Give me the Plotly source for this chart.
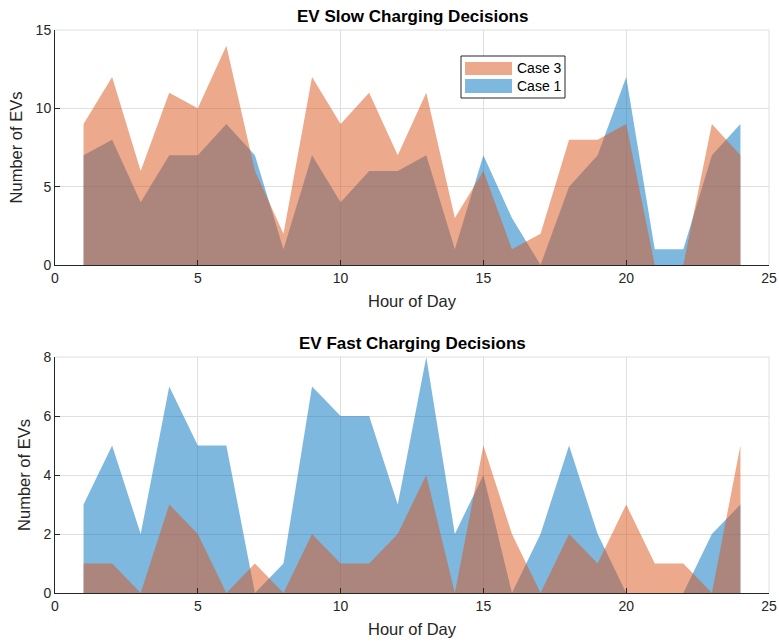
import plotly.graph_objects as go

hours = list(range(1, 25))
slow_case1 = [7, 8, 4, 7, 7, 9, 7, 1, 7, 4, 6, 6, 7, 1, 7, 3, 0, 5, 7, 12, 1, 1, 7, 9]
slow_case3 = [9, 12, 6, 11, 10, 14, 6, 2, 12, 9, 11, 7, 11, 3, 6, 1, 2, 8, 8, 9, 0, 0, 9, 7]
fast_case1 = [3, 5, 2, 7, 5, 5, 0, 1, 7, 6, 6, 3, 8, 2, 4, 0, 2, 5, 2, 0, 0, 0, 2, 3]
fast_case3 = [1, 1, 0, 3, 2, 0, 1, 0, 2, 1, 1, 2, 4, 0, 5, 2, 0, 2, 1, 3, 1, 1, 0, 5]
legend_names = ["Case 3", "Case 1"]

BLUE = "rgba(0,114,189,0.5)"
ORANGE = "rgba(217,83,25,0.5)"
INK = "#262626"
GRID = "#dfdfdf"
FONT = "Liberation Sans, Arial, sans-serif"

fig = go.Figure()

def add_area(x, y, color, name, xa, ya):
    fig.add_trace(go.Scatter(
        x=x, y=y, mode="lines", fill="tozeroy", fillcolor=color,
        line=dict(width=0, color=color), name=name, showlegend=False,
        xaxis=xa, yaxis=ya, hoverinfo="x+y+name"))

add_area(hours, slow_case1, BLUE, "Case 1", "x", "y")
add_area(hours, slow_case3, ORANGE, "Case 3", "x", "y")
add_area(hours, fast_case1, BLUE, "Case 1", "x2", "y2")
add_area(hours, fast_case3, ORANGE, "Case 3", "x2", "y2")

# pixel -> paper helpers (plot area: x 55..769, y 30..593)
def px(x):
    return (x - 55) / 714

def py(y):
    return (593 - y) / 563

top_dom = [py(265), 1.0]
bot_dom = [0.0, py(357)]

axis_common = dict(
    showgrid=True, gridcolor=GRID, gridwidth=1,
    showline=True, linecolor=INK, linewidth=1,
    ticks="inside", ticklen=5, tickcolor=INK,
    tickfont=dict(family=FONT, size=14, color=INK),
    zeroline=False, mirror=False, automargin=False,
)
label_font = dict(family=FONT, size=16.5, color=INK)

shapes = []
for dom in (top_dom, bot_dom):
    shapes.append(dict(type="line", xref="paper", yref="paper", x0=0, x1=1, y0=dom[1], y1=dom[1],
                       line=dict(color=GRID, width=1)))
    shapes.append(dict(type="line", xref="paper", yref="paper", x0=1, x1=1, y0=dom[0], y1=dom[1],
                       line=dict(color=GRID, width=1)))

# legend box (manual, MATLAB-style wide swatches)
shapes.append(dict(type="rect", xref="paper", yref="paper", x0=px(461), x1=px(565),
                   y0=py(98), y1=py(56), fillcolor="white", line=dict(color=INK, width=1),
                   layer="above"))
legend_colors = [ORANGE, BLUE]
swatch_y = [(62, 75), (79, 93)]
annotations = [
    dict(text="<b>EV Slow Charging Decisions</b>", x=0.5, y=py(16),
         xref="paper", yref="paper", showarrow=False, xanchor="center", yanchor="middle",
         font=dict(family=FONT, size=17, color="black")),
    dict(text="<b>EV Fast Charging Decisions</b>", x=0.5, y=py(343),
         xref="paper", yref="paper", showarrow=False, xanchor="center", yanchor="middle",
         font=dict(family=FONT, size=17, color="black")),
]
for name, col, (y0, y1) in zip(legend_names, legend_colors, swatch_y):
    shapes.append(dict(type="rect", xref="paper", yref="paper", x0=px(465), x1=px(512),
                       y0=py(y1), y1=py(y0), fillcolor=col, line=dict(width=0), layer="above"))
    annotations.append(dict(text=name, x=px(515), y=py((y0 + y1) / 2), xref="paper", yref="paper",
                            showarrow=False, xanchor="left", yanchor="middle",
                            font=dict(family=FONT, size=14, color="black")))

fig.update_layout(
    width=779, height=644,
    margin=dict(l=55, r=10, t=30, b=51),
    paper_bgcolor="white", plot_bgcolor="white",
    font=dict(family=FONT, color=INK),
    showlegend=False,
    xaxis=dict(domain=[0, 1], anchor="y", range=[0, 25], dtick=5,
               title=dict(text="Hour of Day", font=label_font, standoff=10),
               **axis_common),
    yaxis=dict(domain=top_dom, anchor="x", range=[0, 15], dtick=5,
               title=dict(text="Number of EVs", font=label_font, standoff=8),
               **axis_common),
    xaxis2=dict(domain=[0, 1], anchor="y2", range=[0, 25], dtick=5,
                title=dict(text="Hour of Day", font=label_font, standoff=10),
                **axis_common),
    yaxis2=dict(domain=bot_dom, anchor="x2", range=[0, 8], dtick=2,
                title=dict(text="Number of EVs", font=label_font, standoff=8),
                **axis_common),
    annotations=annotations,
    shapes=shapes,
)

fig.write_html("out.html")
